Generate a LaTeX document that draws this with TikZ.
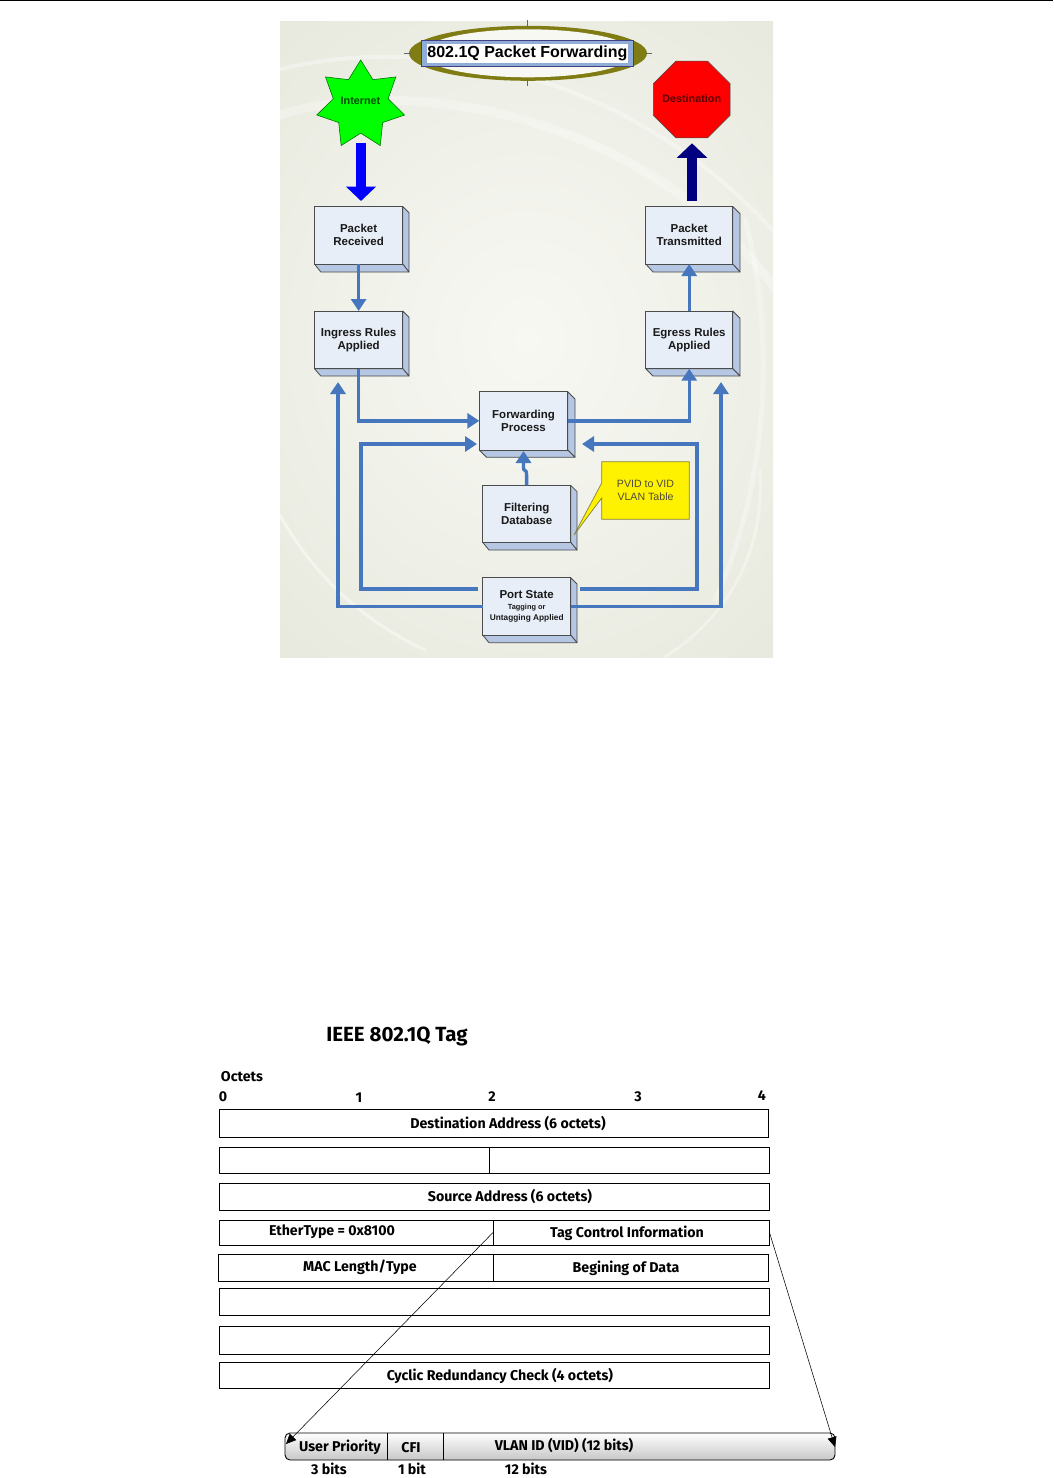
\documentclass[tikz,border=0pt]{standalone}
\usepackage{fontspec}
\setmainfont{Liberation Sans}
\newfontfamily\comicfont{Fira Sans}
\usetikzlibrary{shapes.geometric,arrows.meta}
\definecolor{flow}{HTML}{4676BE}
\definecolor{bevel}{HTML}{B5C7E2}
\definecolor{front}{HTML}{E8EEF8}
\definecolor{bgout}{HTML}{E8EADF}
\definecolor{bgin}{HTML}{F8F8F3}
\definecolor{olive}{HTML}{7E7C12}
\tikzset{
 boxfront/.style={draw=black!70,line width=.8pt,fill=front,inner sep=0pt,outer sep=0pt,align=center,text=black!90,font=\fontsize{11.5}{13.2}\selectfont\bfseries},
 bevelface/.style={draw=black!70,line width=.8pt,fill=bevel,line join=round},
 flowline/.style={draw=flow,line width=3.4pt,-{Triangle[length=12pt,width=15pt]},line join=miter},
 bigarrow/.style={line width=10.5pt,-{Triangle[length=14.5pt,width=29.5pt]}},
 cell/.style={draw=black,line width=.9pt,inner sep=0pt,outer sep=0pt},
 comic/.style={inner sep=0pt,yshift=-1pt,font=\comicfont\bfseries\fontsize{14.2}{16}\selectfont,text=black},
 tagline/.style={draw=black,line width=.55pt,-{Triangle[length=10pt,width=9pt]}},
 tick/.style={draw=black!60,line width=.7pt},
 swirl/.style={draw=white,line cap=round},
}
\newcommand{\bevelbox}[8]{%
 \draw[bevelface] (#4,#3) -- (#6,{#3+#6-#4}) -- (#6,#7) -- (#4,#5) -- cycle;
 \draw[bevelface] (#2,#5) -- (#4,#5) -- (#6,#7) -- ({#2+#6-#4},#7) -- cycle;
 \node[boxfront,minimum width={(#4-#2)*1pt},minimum height={(#5-#3)*1pt}] (#1) at ({(#2+#4)/2},{(#3+#5)/2}) {#8};
}
\newcommand{\cellbox}[5]{%
 \node[cell,minimum width={(#4-#2)*1pt},minimum height={(#5-#3)*1pt}] (#1) at ({(#2+#4)/2},{(#3+#5)/2}) {};
}
\begin{document}
\begin{tikzpicture}[x=1pt,y=-1pt]
\useasboundingbox (0,0) rectangle (1053,1478);
\fill[white] (0,0) rectangle (1053,1478);
\draw[black,line width=1.6pt] (0,.6) -- (1053,.6);
% background panel
\begin{scope}
\clip (280,21) rectangle (773,657);
\shade[inner color=bgin,outer color=bgout] (160,-60) rectangle (893,738);
\draw[swirl,line width=9pt,opacity=.3] (270,118) .. controls (400,72) and (660,110) .. (790,310);
\draw[swirl,line width=4pt,opacity=.35] (270,72) .. controls (420,30) and (640,70) .. (790,250);
\draw[swirl,line width=3pt,opacity=.45] (280,515) .. controls (310,570) and (360,620) .. (425,650);
\draw[swirl,line width=3pt,opacity=.35] (760,470) .. controls (765,550) and (730,615) .. (665,657);
\draw[swirl,line width=5pt,opacity=.3] (745,220) .. controls (775,330) and (770,480) .. (715,600);
\end{scope}
% title
\fill[olive] (528,53.3) ellipse [x radius=119,y radius=27.5];
\fill[bgin] (528,53.3) ellipse [x radius=106,y radius=24];
\draw[tick] (527,20) -- (527,27);
\draw[tick] (527,79) -- (527,86);
\draw[tick] (404,53) -- (411,53);
\draw[tick] (646,53) -- (652,53);
\node[draw=blue!35!black!75,fill=flow!60!white,line width=1.3pt,minimum width=212pt,minimum height=26pt,inner sep=0pt] (titleband) at (527.8,53.7) {};
\node[fill=white,minimum width=201.5pt,minimum height=18.7pt,inner sep=0pt,font=\fontsize{16}{18}\selectfont\bfseries] (title) at (527.4,53.3) {802.1Q Packet Forwarding};
% star and octagon
\node[star,star points=7,star point ratio=1.6,draw=black!55!green,line width=.6pt,fill=green,minimum size=90pt,inner sep=0pt] (internet) at (360.7,105) {};
\node[font=\fontsize{10.8}{12}\selectfont\bfseries,text=green!30!black,inner sep=0pt] (internettext) at (360.5,101) {Internet};
\node[regular polygon,regular polygon sides=8,draw=black!70,line width=.6pt,fill=red,minimum size=83pt,inner sep=0pt] (dest) at (691.7,99.5) {};
\node[font=\fontsize{10.8}{12}\selectfont\bfseries,text=red!35!black,inner sep=0pt] (desttext) at (691.7,98.5) {Destination};
% boxes
\bevelbox{recv}{314.5}{206.5}{402.7}{264}{409}{272}{Packet\\Received}
\bevelbox{trans}{645.7}{206.5}{732.7}{264}{740}{272}{Packet\\Transmitted}
\bevelbox{ingress}{314.5}{311}{402.7}{368.7}{409}{376}{Ingress Rules\\Applied}
\bevelbox{egress}{645.7}{311}{732.7}{368.7}{740}{376}{Egress Rules\\Applied}
\bevelbox{fwd}{479.3}{391.7}{567.7}{450}{575}{457.3}{Forwarding\\Process}
\bevelbox{filter}{482.7}{485.3}{570.7}{542.3}{577}{550}{Filtering\\Database}
\bevelbox{port}{482.7}{577.7}{570.7}{635}{577}{642.7}{Port State\\[-2.5pt]{\fontsize{7.4}{8.5}\selectfont Tagging or}\\[-2.5pt]{\fontsize{8.3}{9.5}\selectfont Untagging Applied}}
% big arrows
\coordinate (inOut) at (361,143);
\coordinate (inIn) at (361,201);
\coordinate (destOut) at (692,201);
\coordinate (destIn) at (692,143.3);
\draw[bigarrow,draw=blue,fill=blue] (inOut) -- (inIn);
\draw[bigarrow,draw=blue!50!black,fill=blue!50!black] (destOut) -- (destIn);
% flow connectors
\draw[flowline] (recv.south) -- (ingress.north);
\draw[flowline] (egress.north) -- (trans.south);
\draw[flowline] (ingress.south) |- (fwd.west);
\draw[flowline] (fwd.east) -| (egress.south);
\coordinate (ingressIn) at (338,382);
\coordinate (egressIn) at (721,382);
\draw[flowline] (port.west) -| (ingressIn);
\draw[flowline] (port.east) -| (egressIn);
\coordinate (portUL) at (478,589);
\coordinate (turnUL) at (361,589);
\coordinate (fwdUL) at (477,444);
\coordinate (portUR) at (580,589);
\coordinate (turnUR) at (697,589);
\coordinate (fwdUR) at (582,444);
\draw[flowline] (portUL) -- (turnUL) |- (fwdUL);
\draw[flowline] (portUR) -- (turnUR) |- (fwdUR);
\coordinate (kink) at (526.5,472);
\coordinate (kinkb) at (523.5,469);
\coordinate (fwdLow) at (523.5,451);
\draw[flowline,line join=round] (filter.north) -- (kink) -- (kinkb) -- (fwdLow);
% callout
\coordinate (tip) at (574,535);
\path[fill=yellow,draw=black!55!yellow,line width=.7pt] (601.7,461.7) -- (689.3,461.7) -- (689.3,519.3) -- (601.7,519.3) -- (601.7,498) -- (tip) -- (601.7,483) -- cycle;
\node[font=\fontsize{10.6}{13}\selectfont,align=center,text=black!80!yellow,inner sep=0pt] (pvid) at (645.5,490) {PVID to VID\\VLAN Table};
% table
\cellbox{rowa}{219}{1109}{768.5}{1137}
\cellbox{rowba}{219}{1147}{489}{1173}
\cellbox{rowbb}{489}{1147}{769.5}{1173}
\cellbox{rowc}{219}{1183}{769.5}{1210}
\cellbox{rowda}{219}{1220}{493}{1245}
\cellbox{rowdb}{493}{1220}{769.5}{1245}
\cellbox{rowea}{218}{1254}{493}{1281}
\cellbox{roweb}{493}{1254}{768.5}{1281}
\cellbox{rowf}{219}{1288}{769.5}{1315}
\cellbox{rowg}{219}{1326}{769.5}{1354}
\cellbox{rowh}{219}{1362}{769.5}{1388}
\node[comic,font=\comicfont\bfseries\fontsize{20.5}{23}\selectfont] (ttl) at (397,1035) {IEEE 802.1Q Tag};
\node[comic] (octets) at (242,1076) {Octets};
\node[comic] (o0) at (223,1096) {0};
\node[comic] (o1) at (359,1097) {1};
\node[comic] (o2) at (492,1096) {2};
\node[comic] (o3) at (638,1096) {3};
\node[comic] (o4) at (762,1095) {4};
\node[comic] (tdest) at (508,1123) {Destination Address (6 octets)};
\node[comic] (tsrc) at (510,1196) {Source Address (6 octets)};
\node[comic] (teth) at (332,1231) {EtherType = 0x8100};
\node[comic] (ttag) at (627,1232) {Tag Control Information};
\node[comic] (tmac) at (360,1266) {MAC Length/Type};
\node[comic] (tbeg) at (626,1267) {Begining of Data};
\node[comic] (tcrc) at (500,1375) {Cyclic Redundancy Check (4 octets)};
% tag bar
\node[draw=black,line width=.9pt,rounded corners=5pt,top color=white,bottom color=black!22,minimum width=550pt,minimum height=27pt,inner sep=0pt,outer sep=0pt] (tagbar) at (560,1446.5) {};
\draw[black,line width=.8pt] (387,1433) -- (387,1460);
\draw[black,line width=.8pt] (443,1433) -- (443,1460);
\node[comic] (tup) at (340,1446) {User Priority};
\node[comic] (tcfi) at (411,1447) {CFI};
\node[comic] (tvid) at (564,1445) {VLAN ID (VID) (12 bits)};
\node[comic] (b3) at (329,1468) {3 bits};
\node[comic] (b1) at (412,1468) {1 bit};
\node[comic] (b12) at (526,1468) {12 bits};
\coordinate (tagL) at (286,1444);
\coordinate (tagR) at (835,1447);
\draw[tagline] (rowdb.west) -- (tagL);
\draw[tagline] (rowdb.east) -- (tagR);
\end{tikzpicture}
\end{document}
